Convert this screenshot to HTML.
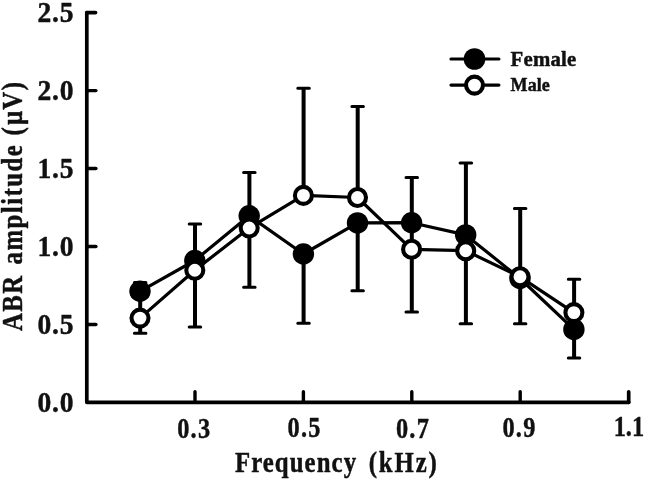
<!DOCTYPE html>
<html><head><meta charset="utf-8"><title>ABR amplitude</title>
<style>
html,body{margin:0;padding:0;background:#fff;}
svg{display:block;filter:blur(0.35px);}
text{font-family:"Liberation Serif","DejaVu Serif",serif;font-weight:bold;fill:#111;}
</style></head><body>
<svg width="646" height="481" viewBox="0 0 646 481">
<rect width="646" height="481" fill="#fff"/>
<g stroke="#000" stroke-width="3.7" fill="none" stroke-linecap="round" stroke-linejoin="round">
<path d="M86.8 12.6 V402.3 H628.7"/>
</g>
<g stroke="#000" stroke-width="3.4" fill="none" stroke-linecap="round">
<path d="M87.1 324.5 H95.9"/>
<path d="M87.1 246.5 H95.9"/>
<path d="M87.1 168.5 H95.9"/>
<path d="M87.1 90.6 H95.9"/>
<path stroke-width="3.7" d="M86.8 12.6 H95.5"/>
<path d="M195.0 402.0 V391.8"/>
<path d="M303.4 402.0 V391.8"/>
<path d="M411.8 402.0 V391.8"/>
<path d="M520.2 402.0 V391.8"/>
<path stroke-width="3.7" d="M628.7 402.3 V391.9"/>
</g>
<g stroke="#000" fill="none" stroke-linecap="round">
<path stroke-width="4" stroke-linecap="butt" d="M140.2 282.5 V333.2"/>
<path stroke-width="3" d="M134.4 282.5 H145.9 M134.4 333.2 H145.9"/>
<path stroke-width="4" stroke-linecap="butt" d="M195.0 224.0 V327.1"/>
<path stroke-width="3" d="M189.2 224.0 H200.7 M189.2 327.1 H200.7"/>
<path stroke-width="4" stroke-linecap="butt" d="M249.4 172.5 V287.2"/>
<path stroke-width="3" d="M243.6 172.5 H255.1 M243.6 287.2 H255.1"/>
<path stroke-width="4" stroke-linecap="butt" d="M303.6 88.2 V195.4 M303.6 254.0 V323.2"/>
<path stroke-width="3" d="M297.8 88.2 H309.3 M297.8 323.2 H309.3"/>
<path stroke-width="4" stroke-linecap="butt" d="M357.7 106.5 V197.5 M357.7 222.9 V290.7"/>
<path stroke-width="3" d="M351.9 106.5 H363.4 M351.9 290.7 H363.4"/>
<path stroke-width="4" stroke-linecap="butt" d="M411.8 177.4 V311.9"/>
<path stroke-width="3" d="M406.0 177.4 H417.5 M406.0 311.9 H417.5"/>
<path stroke-width="4" stroke-linecap="butt" d="M465.9 163.0 V323.7"/>
<path stroke-width="3" d="M460.1 163.0 H471.6 M460.1 323.7 H471.6"/>
<path stroke-width="4" stroke-linecap="butt" d="M520.2 208.5 V323.7"/>
<path stroke-width="3" d="M514.4 208.5 H525.9 M514.4 323.7 H525.9"/>
<path stroke-width="4" stroke-linecap="butt" d="M574.1 279.2 V358.1"/>
<path stroke-width="3" d="M568.3 279.2 H579.8 M568.3 358.1 H579.8"/>
</g>
<g stroke="#000" stroke-width="3.2" fill="none" stroke-linejoin="round">
<polyline points="140.0,291.3 194.8,260.5 249.2,215.8 303.4,254.0 357.5,222.9 411.6,222.7 465.7,234.9 520.0,278.5 573.9,329.4"/>
<polyline points="140.0,318.1 194.8,270.2 249.2,228.0 303.4,195.4 357.5,197.5 411.6,249.3 465.7,250.7 520.0,276.8 573.9,312.6"/>
<path d="M451 59 H498.9 M451 85.1 H498.9" stroke-linecap="round"/>
</g>
<g fill="#000">
<circle cx="140.0" cy="291.3" r="10.7"/>
<circle cx="194.8" cy="260.5" r="10.7"/>
<circle cx="249.2" cy="215.8" r="10.7"/>
<circle cx="303.4" cy="254.0" r="10.7"/>
<circle cx="357.5" cy="222.9" r="10.7"/>
<circle cx="411.6" cy="222.7" r="10.7"/>
<circle cx="465.7" cy="234.9" r="10.7"/>
<circle cx="520.0" cy="278.5" r="10.7"/>
<circle cx="573.9" cy="329.4" r="10.7"/>
<circle cx="474.5" cy="59" r="10.8"/>
</g>
<g fill="#fff" stroke="#000" stroke-width="4.1">
<circle cx="140.0" cy="318.1" r="8.5"/>
<circle cx="194.8" cy="270.2" r="8.5"/>
<circle cx="249.2" cy="228.0" r="8.5"/>
<circle cx="303.4" cy="195.4" r="8.5"/>
<circle cx="357.5" cy="197.5" r="8.5"/>
<circle cx="411.6" cy="249.3" r="8.5"/>
<circle cx="465.7" cy="250.7" r="8.5"/>
<circle cx="520.0" cy="276.8" r="8.5"/>
<circle cx="573.9" cy="312.6" r="8.5"/>
<circle cx="474.5" cy="85.1" r="8.5"/>
</g>
<g style="opacity:0.999" stroke="#111" stroke-width="0.45" stroke-linejoin="round">
<text transform="translate(37.5 411.7) scale(0.95 1)" font-size="29" text-anchor="start" textLength="37.9" lengthAdjust="spacing">0.0</text>
<text transform="translate(37.5 333.7) scale(0.95 1)" font-size="29" text-anchor="start" textLength="37.9" lengthAdjust="spacing">0.5</text>
<text transform="translate(37.5 256.2) scale(0.95 1)" font-size="29" text-anchor="start" textLength="37.9" lengthAdjust="spacing">1.0</text>
<text transform="translate(37.5 177.9) scale(0.95 1)" font-size="29" text-anchor="start" textLength="37.9" lengthAdjust="spacing">1.5</text>
<text transform="translate(37.5 99.7) scale(0.95 1)" font-size="29" text-anchor="start" textLength="37.9" lengthAdjust="spacing">2.0</text>
<text transform="translate(37.5 21.8) scale(0.95 1)" font-size="29" text-anchor="start" textLength="37.9" lengthAdjust="spacing">2.5</text>
<text transform="translate(177.2 437.9) scale(0.84 1)" font-size="29" text-anchor="start" textLength="39.2" lengthAdjust="spacing">0.3</text>
<text transform="translate(287.5 436.7) scale(0.84 1)" font-size="29" text-anchor="start" textLength="39.2" lengthAdjust="spacing">0.5</text>
<text transform="translate(395.9 437.5) scale(0.84 1)" font-size="29" text-anchor="start" textLength="39.2" lengthAdjust="spacing">0.7</text>
<text transform="translate(502.4 436.8) scale(0.84 1)" font-size="29" text-anchor="start" textLength="39.2" lengthAdjust="spacing">0.9</text>
<text transform="translate(613.7 435.8) scale(0.84 1)" font-size="29" text-anchor="start" textLength="36.2" lengthAdjust="spacing">1.1</text>
<text transform="translate(234.9 471.5) scale(0.87 1)" font-size="28.5" letter-spacing="1.25" word-spacing="4.9">Frequency <tspan letter-spacing="2.15">(kHz)</tspan></text>
<text transform="translate(21.6 331) rotate(-90) scale(0.87 1)" font-size="28.5" letter-spacing="1.6">ABR <tspan x="76.55" letter-spacing="1.68">amplitude </tspan><tspan x="224.7">(</tspan><tspan x="236.7">µ</tspan><tspan x="254.2">V</tspan><tspan x="276.6">)</tspan></text>
<text transform="translate(510.6 66.3)" font-size="20.8" text-anchor="start" textLength="65.6" lengthAdjust="spacing">Female</text>
<text transform="translate(510.6 90.7)" font-size="18" text-anchor="start" textLength="39.2" lengthAdjust="spacing">Male</text>
</g>
</svg></body></html>
